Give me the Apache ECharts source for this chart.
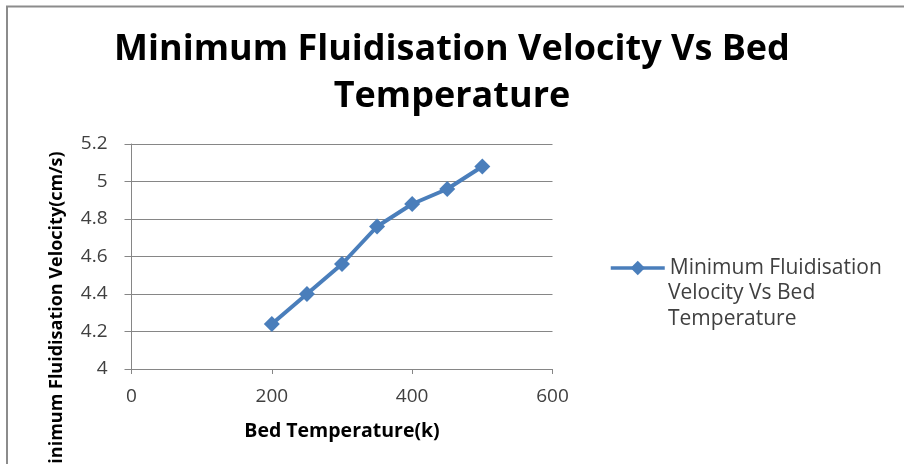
<!DOCTYPE html>
<html>
<head>
<meta charset="utf-8">
<script src="https://cdn.jsdelivr.net/npm/echarts@6/dist/echarts.min.js"></script>
<style>
  html, body { margin: 0; padding: 0; background: #ffffff; }
  #chart { width: 904px; height: 464px; }
</style>
</head>
<body>
<div id="chart"></div>
<script>
// Bed temperature (K) and the measured minimum fluidisation velocity (cm/s)
var bedTemperature = [200, 250, 300, 350, 400, 450, 500];
var minFluidVelocity = [4.24, 4.40, 4.56, 4.76, 4.88, 4.96, 5.08];
var seriesName = 'Minimum Fluidisation Velocity Vs Bed Temperature';
var legendLines = ['Minimum Fluidisation', 'Velocity Vs Bed', 'Temperature'];
var titleLines = ['Minimum Fluidisation Velocity Vs Bed', 'Temperature'];

var FONT = '"Open Sans", "Liberation Sans", sans-serif';
var LEGEND_X = 668, LEGEND_Y = 268, LEGEND_LINE = 25.5, LEGEND_SIZE = 21;
var LINE_COLOR = '#4a7ebb';

var chart = echarts.init(document.getElementById('chart'), null, { renderer: 'canvas' });

var points = bedTemperature.map(function (t, i) { return [t, minFluidVelocity[i]]; });

// The legend entry carries the first line of the series name; the wrapped
// continuation lines sit beneath it, left-aligned with the legend text.
var legendContinuation = legendLines.slice(1).map(function (line, i) {
  return {
    type: 'text',
    x: LEGEND_X,
    y: LEGEND_Y + LEGEND_LINE * (i + 1),
    style: {
      text: line,
      fontFamily: FONT,
      fontSize: LEGEND_SIZE,
      fill: '#404040',
      align: 'left',
      verticalAlign: 'middle'
    },
    silent: true
  };
});

chart.setOption({
  animation: false,
  backgroundColor: '#ffffff',
  title: {
    text: titleLines.join('\n'),
    left: 'center',
    top: 21,
    textStyle: {
      fontFamily: FONT,
      fontWeight: 'bold',
      fontSize: 36,
      lineHeight: 47,
      color: '#000000'
    }
  },
  legend: {
    data: [seriesName],
    left: 609,
    top: LEGEND_Y - 13,
    padding: 0,
    itemWidth: 54,
    itemHeight: 18,
    itemGap: 0,
    lineStyle: { width: 3.5, color: LINE_COLOR },
    formatter: function () { return legendLines[0]; },
    textStyle: {
      fontFamily: FONT,
      fontSize: LEGEND_SIZE,
      lineHeight: 26,
      color: '#404040'
    }
  },
  grid: {
    left: 131.5,
    right: 351.5,
    top: 144,
    bottom: 95,
    containLabel: false
  },
  xAxis: {
    type: 'value',
    min: 0,
    max: 600,
    interval: 200,
    name: 'Bed Temperature(k)',
    nameLocation: 'middle',
    nameGap: 52,
    nameTextStyle: { fontFamily: FONT, fontWeight: 'bold', fontSize: 19.5, color: '#000000' },
    axisLine: { show: true, onZero: false, lineStyle: { color: '#868686', width: 1 } },
    axisTick: { show: true, inside: false, length: 5, lineStyle: { color: '#868686' } },
    axisLabel: { fontFamily: FONT, fontSize: 19, color: '#404040', margin: 18 },
    splitLine: { show: false }
  },
  yAxis: {
    type: 'value',
    min: 4,
    max: 5.2,
    interval: 0.2,
    axisLine: { show: true, lineStyle: { color: '#868686', width: 1 } },
    axisTick: { show: true, inside: false, length: 7, lineStyle: { color: '#868686' } },
    axisLabel: { fontFamily: FONT, fontSize: 19, color: '#404040', margin: 24, align: 'right' },
    splitLine: { show: true, lineStyle: { color: '#868686', width: 1 } }
  },
  graphic: [
    {
      type: 'rect',
      shape: { x: 7, y: 6.5, width: 2000, height: 2000 },
      style: { fill: 'none', stroke: '#8c8c8c', lineWidth: 2 },
      silent: true,
      z: 100
    },
    {
      type: 'text',
      x: 57,
      y: 316,
      rotation: Math.PI / 2,
      style: {
        text: 'Minimum Fluidisation Velocity(cm/s)',
        fontFamily: FONT,
        fontWeight: 'bold',
        fontSize: 18,
        fill: '#000000',
        align: 'center',
        verticalAlign: 'middle'
      },
      silent: true
    }
  ].concat(legendContinuation),
  series: [
    {
      name: seriesName,
      type: 'line',
      data: points,
      symbol: 'diamond',
      symbolSize: 16,
      showSymbol: true,
      lineStyle: { color: LINE_COLOR, width: 4 },
      itemStyle: { color: LINE_COLOR },
      emphasis: { disabled: true }
    }
  ]
});
</script>
</body>
</html>
